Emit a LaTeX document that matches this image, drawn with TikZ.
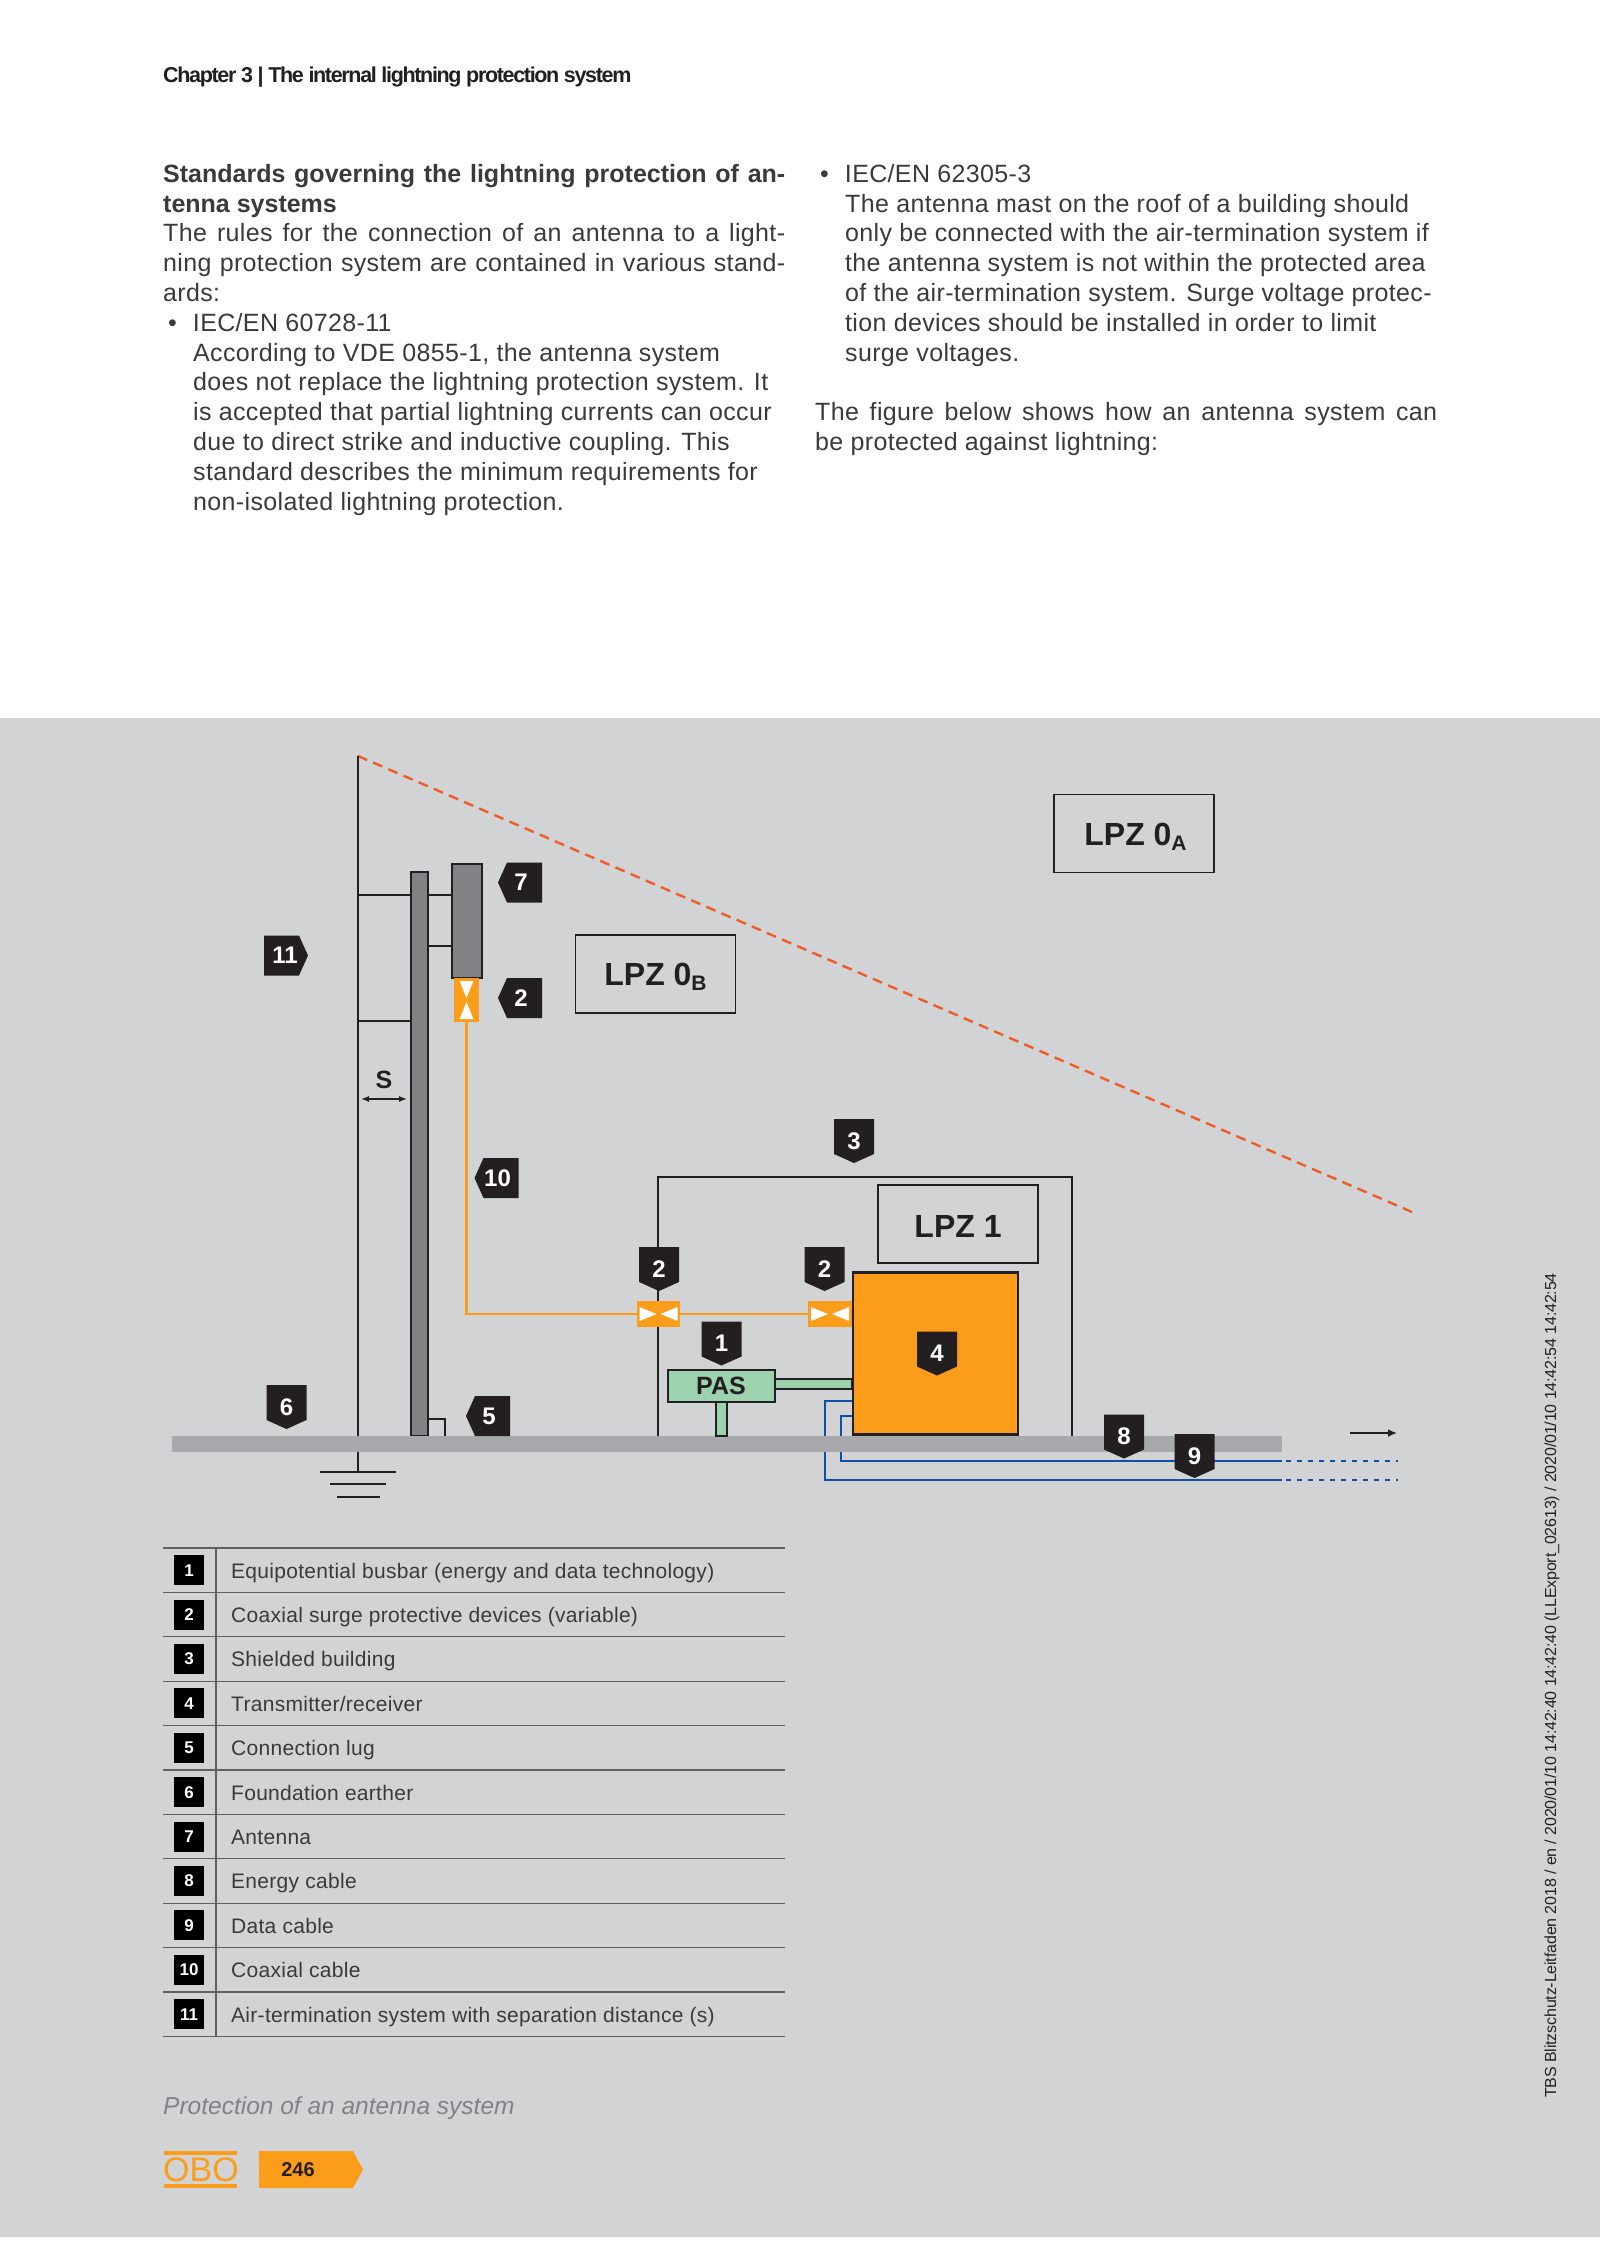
\documentclass[tikz,border=0pt]{standalone}
\usepackage{fontspec}
\usepackage{xcolor}
\usetikzlibrary{arrows.meta}
\setmainfont[LetterSpace=1.4]{Liberation Sans}
\newfontfamily\headfont[LetterSpace=-6.2]{Liberation Sans}
\newfontfamily\plainfont{Liberation Sans}
\newfontfamily\stampfont[LetterSpace=-1]{Liberation Sans}
\definecolor{Ink}{HTML}{231F20}
\definecolor{Copy}{HTML}{3A3A3C}
\definecolor{Sheet}{HTML}{D1D3D4}
\definecolor{Steel}{HTML}{808285}
\definecolor{Earth}{HTML}{A7A9AC}
\definecolor{Amber}{HTML}{FB9D1B}
\definecolor{Mint}{HTML}{9CD2AE}
\definecolor{Cable}{HTML}{0F4FA8}
\definecolor{Zone}{HTML}{F15A29}
\newcommand{\Fit}[2]{\hbox to #1{\spaceskip=0.28em plus 1fil\relax #2}}
\newcommand{\Low}[1]{\smash{\raisebox{-5pt}{\fontsize{21}{21}\selectfont #1}}}
\tikzset{
  tagtext/.style={text=white,inner sep=0pt,font=\plainfont\fontsize{24}{24}\selectfont\bfseries},
  tagdown/.pic={\fill[Ink] (-20,-22) -- (20,-22) -- (20,13) -- (0,22) -- (-20,13) -- cycle;
    \node[tagtext] (-num) at (0,0) {\tikzpictext};},
  tagleft/.pic={\fill[Ink] (22,-20) -- (22,20) -- (-13,20) -- (-22,0) -- (-13,-20) -- cycle;
    \node[tagtext] (-num) at (1,0) {\tikzpictext};},
  tagright/.pic={\fill[Ink] (-22,-20) -- (-22,20) -- (13,20) -- (22,0) -- (13,-20) -- cycle;
    \node[tagtext] (-num) at (-1,0) {\tikzpictext};},
  zonebox/.style={draw=Ink,line width=1.8pt,inner sep=0pt,minimum width=160pt,minimum height=78pt,
    text=Ink,text height=23pt,text depth=0pt,font=\plainfont\fontsize{32}{32}\selectfont\bfseries},
  device/.style={fill=Amber,inner sep=0pt,outer sep=0pt},
  wire/.style={Ink,line width=2pt},
  bodytext/.style={anchor=north west,inner sep=0pt,align=left,text=Copy,font=\fontsize{25}{29.8}\selectfont},
  numbox/.style={fill=black,text=white,inner sep=0pt,minimum size=30pt,font=\plainfont\fontsize{17}{17}\selectfont\bfseries},
  rowtext/.style={anchor=base west,inner sep=0pt,text=Copy,font=\fontsize{21}{22}\selectfont},
  rowline/.style={Copy!80,line width=1.2pt}
}
\begin{document}
\begin{tikzpicture}[x=1pt,y=-1pt]
  \useasboundingbox (0,0) rectangle (1600,2245);
  \fill[white] (0,0) rectangle (1600,2245);
  \fill[Sheet] (0,718) rectangle (1600,2237);

  \node[anchor=base west,inner sep=0pt,text=Ink,font=\headfont\fontsize{21.5}{26}\selectfont\bfseries] (chapter) at (163,83) {Chapter 3 | The internal lightning protection system};
  \node[bodytext] (leftcol) at (163,164) {{\plainfont\bfseries\Fit{622pt}{Standards governing the lightning protection of an-}}\\
    {\plainfont\bfseries tenna systems}\\
    \Fit{622pt}{The rules for the connection of an antenna to a light-}\\
    \Fit{622pt}{ning protection system are contained in various stand-}\\
    ards:\\
    \hspace*{5pt}•\hspace{16pt}IEC/EN 60728-11\\
    \hspace*{30pt}According to VDE 0855-1, the antenna system\\
    \hspace*{30pt}does not replace the lightning protection system. It\\
    \hspace*{30pt}is accepted that partial lightning currents can occur\\
    \hspace*{30pt}due to direct strike and inductive coupling. This\\
    \hspace*{30pt}standard describes the minimum requirements for\\
    \hspace*{30pt}non-isolated lightning protection.};
  \node[bodytext] (rightcol) at (815,164) {\hspace*{5pt}•\hspace{16pt}IEC/EN 62305-3\\
    \hspace*{30pt}The antenna mast on the roof of a building should\\
    \hspace*{30pt}only be connected with the air-termination system if\\
    \hspace*{30pt}the antenna system is not within the protected area\\
    \hspace*{30pt}of the air-termination system. Surge voltage protec-\\
    \hspace*{30pt}tion devices should be installed in order to limit\\
    \hspace*{30pt}surge voltages.\\[29.8pt]
    \Fit{622pt}{The figure below shows how an antenna system can}\\
    be protected against lightning:};

  \coordinate (rodtop) at (358,756);
  \coordinate (rodfoot) at (358,1436);
  \coordinate (zoneend) at (1412,1212);
  \coordinate (stemA) at (358,895);
  \coordinate (stemB) at (428,946);
  \coordinate (stemC) at (358,1021);
  \draw[Zone,line width=2.4pt,dash pattern=on 10pt off 6.5pt] (rodtop) -- (zoneend);
  \draw[wire] (rodtop) -- (rodfoot);
  \draw[wire] (stemA) -- (451,895);
  \draw[wire] (stemB) -- (451,946);
  \draw[wire] (stemC) -- (410,1021);
  \node[draw=Ink,fill=Steel,line width=2pt,inner sep=0pt,minimum width=17pt,minimum height=564pt] (mast) at (419,1154) {};
  \node[draw=Ink,fill=Steel,line width=2pt,inner sep=0pt,minimum width=30pt,minimum height=114pt] (antenna) at (466.5,920.5) {};
  \node[device,minimum width=25pt,minimum height=44pt] (spdtop) at (466.5,1000) {};
  \fill[white,shift={(spdtop.center)}] (-7,-19) -- (7,-19) -- (0,-2) -- cycle;
  \fill[white,shift={(spdtop.center)}] (-7,19) -- (7,19) -- (0,2) -- cycle;

  \coordinate (lug) at (428,1419);
  \draw[wire] (lug) -- (445,1419) -- (445,1436);
  \node[anchor=base,inner sep=0pt,text=Ink,font=\plainfont\fontsize{25}{25}\selectfont\bfseries] (gap) at (384,1088) {S};
  \draw[{Latex[length=8pt,width=6pt]}-{Latex[length=8pt,width=6pt]},Ink,line width=1.2pt] (361,1099) -- (407,1099);

  \draw[Amber,line width=2.5pt] (spdtop.south) |- (637,1314);
  \node[device,minimum width=43pt,minimum height=26pt] (spdmid) at (658.5,1314) {};
  \node[device,minimum width=44pt,minimum height=26pt] (spdrx) at (830,1314) {};
  \draw[Amber,line width=2.5pt] (spdmid.east) -- (spdrx.west);
  \fill[white,shift={(spdmid.center)}] (-19,-7) -- (-19,7) -- (-2,0) -- cycle;
  \fill[white,shift={(spdmid.center)}] (19,-7) -- (19,7) -- (2,0) -- cycle;
  \fill[white,shift={(spdrx.center)}] (-19,-7) -- (-19,7) -- (-2,0) -- cycle;
  \fill[white,shift={(spdrx.center)}] (19,-7) -- (19,7) -- (2,0) -- cycle;

  \draw[wire] (658,1301) -- (658,1177) -- (1071.5,1177) -- (1071.5,1436);
  \draw[wire] (658,1327) -- (658,1436);
  \node[zonebox] (lpzA) at (1134,833.5) {\hspace{3pt}LPZ 0\Low{A}};
  \node[zonebox] (lpzB) at (655.5,974) {LPZ 0\Low{B}};
  \node[zonebox,text height=27pt] (lpzC) at (958,1224) {LPZ 1};

  \draw[Cable,line width=2.4pt] (852,1401) -| (825,1480) -- (1282,1480);
  \draw[Cable,line width=2.4pt] (852,1416) -| (841,1461) -- (1282,1461);
  \draw[Cable,line width=2.8pt,dash pattern=on 5pt off 6pt] (1286,1480) -- (1398,1480);
  \draw[Cable,line width=2.8pt,dash pattern=on 5pt off 6pt] (1286,1461) -- (1398,1461);
  \node[fill=Earth,inner sep=0pt,minimum width=1110pt,minimum height=16pt] (bar) at (727,1444) {};
  \node[draw=Ink,fill=Amber,line width=2.2pt,inner sep=0pt,minimum width=165pt,minimum height=162pt] (txrx) at (935.5,1353.5) {};
  \draw[Ink,line width=2pt,fill=Mint] (775,1379) rectangle (852,1389);
  \draw[Ink,line width=1.6pt,fill=Mint] (716,1402) rectangle (727,1436);
  \node[draw=Ink,fill=Mint,line width=2pt,inner sep=0pt,minimum width=107pt,minimum height=32pt,text=Ink,font=\plainfont\fontsize{25}{25}\selectfont\bfseries] (pas) at (721,1385.5) {PAS};

  \draw[wire] (rodfoot |- bar.south) -- (358,1472);
  \draw[wire] (320,1472) -- (396,1472);
  \draw[wire] (330,1484) -- (386,1484);
  \draw[wire] (337,1497) -- (380,1497);
  \draw[-{Latex[length=9pt,width=8pt]},Ink,line width=1.8pt] (1350,1433) -- (1397,1433);

  \pic[pic text=7] (tagF) at (520,882.5) {tagleft};
  \pic[pic text=2] (tagG) at (520,998) {tagleft};
  \pic[pic text=11] (tagH) at (286,955.5) {tagright};
  \pic[pic text=10] (tagJ) at (496.5,1178) {tagleft};
  \pic[pic text=5] (tagK) at (488,1416) {tagleft};
  \pic[pic text=6] (tagL) at (286.5,1407) {tagdown};
  \pic[pic text=2] (tagM) at (659,1269) {tagdown};
  \pic[pic text=2] (tagN) at (824.5,1269) {tagdown};
  \pic[pic text=1] (tagP) at (721.5,1343.5) {tagdown};
  \pic[pic text=3] (tagQ) at (854,1141) {tagdown};
  \pic[pic text=4] (tagR) at (937,1353.5) {tagdown};
  \pic[pic text=8] (tagS) at (1124,1436.5) {tagdown};
  \pic[pic text=9] (tagT) at (1194.5,1456) {tagdown};

  \draw[rowline] (163,1548) -- (785,1548);
  \draw[rowline] (163,1592.4) -- (785,1592.4);
  \draw[rowline] (163,1636.8) -- (785,1636.8);
  \draw[rowline] (163,1681.2) -- (785,1681.2);
  \draw[rowline] (163,1725.6) -- (785,1725.6);
  \draw[rowline] (163,1770) -- (785,1770);
  \draw[rowline] (163,1814.4) -- (785,1814.4);
  \draw[rowline] (163,1858.8) -- (785,1858.8);
  \draw[rowline] (163,1903.2) -- (785,1903.2);
  \draw[rowline] (163,1947.6) -- (785,1947.6);
  \draw[rowline] (163,1992) -- (785,1992);
  \draw[rowline] (163,2036.4) -- (785,2036.4);
  \draw[rowline] (216,1548) -- (216,2036.4);
  \node[numbox] (numA) at (189,1570.2) {1};
  \node[rowtext] (rowA) at (231,1578) {Equipotential busbar (energy and data technology)};
  \node[numbox] (numB) at (189,1614.6) {2};
  \node[rowtext] (rowB) at (231,1622.4) {Coaxial surge protective devices (variable)};
  \node[numbox] (numC) at (189,1659) {3};
  \node[rowtext] (rowC) at (231,1666.8) {Shielded building};
  \node[numbox] (numD) at (189,1703.4) {4};
  \node[rowtext] (rowD) at (231,1711.2) {Transmitter/receiver};
  \node[numbox] (numE) at (189,1747.8) {5};
  \node[rowtext] (rowE) at (231,1755.6) {Connection lug};
  \node[numbox] (numF) at (189,1792.2) {6};
  \node[rowtext] (rowF) at (231,1800) {Foundation earther};
  \node[numbox] (numG) at (189,1836.6) {7};
  \node[rowtext] (rowG) at (231,1844.4) {Antenna};
  \node[numbox] (numH) at (189,1881) {8};
  \node[rowtext] (rowH) at (231,1888.8) {Energy cable};
  \node[numbox] (numI) at (189,1925.4) {9};
  \node[rowtext] (rowI) at (231,1933.2) {Data cable};
  \node[numbox] (numJ) at (189,1969.8) {10};
  \node[rowtext] (rowJ) at (231,1977.6) {Coaxial cable};
  \node[numbox] (numK) at (189,2014.2) {11};
  \node[rowtext] (rowK) at (231,2022) {Air-termination system with separation distance (s)};

  \node[anchor=base west,inner sep=0pt,text=Steel,font=\plainfont\fontsize{24.5}{25}\selectfont\itshape] (caption) at (163,2114) {Protection of an antenna system};
  \node[inner sep=0pt,text=Amber,font=\plainfont\fontsize{34}{34}\selectfont] (logo) at (201,2170) {OBO};
  \fill[Amber] (164,2151) rectangle (237,2155);
  \fill[Amber] (164,2184) rectangle (237,2188);
  \fill[Amber] (259,2151) -- (353,2151) -- (363,2169.5) -- (353,2188) -- (259,2188) -- cycle;
  \node[inner sep=0pt,text=Ink,font=\plainfont\fontsize{20}{20}\selectfont\bfseries] (folio) at (298,2170) {246};
  \node[rotate=90,anchor=west,inner sep=0pt,text=Ink,font=\stampfont\fontsize{16}{16}\selectfont] (stamp) at (1552,2098) {TBS Blitzschutz-Leitfaden 2018 / en / 2020/01/10 14:42:40 14:42:40 (LLExport\_02613) / 2020/01/10 14:42:54 14:42:54};
\end{tikzpicture}
\end{document}
